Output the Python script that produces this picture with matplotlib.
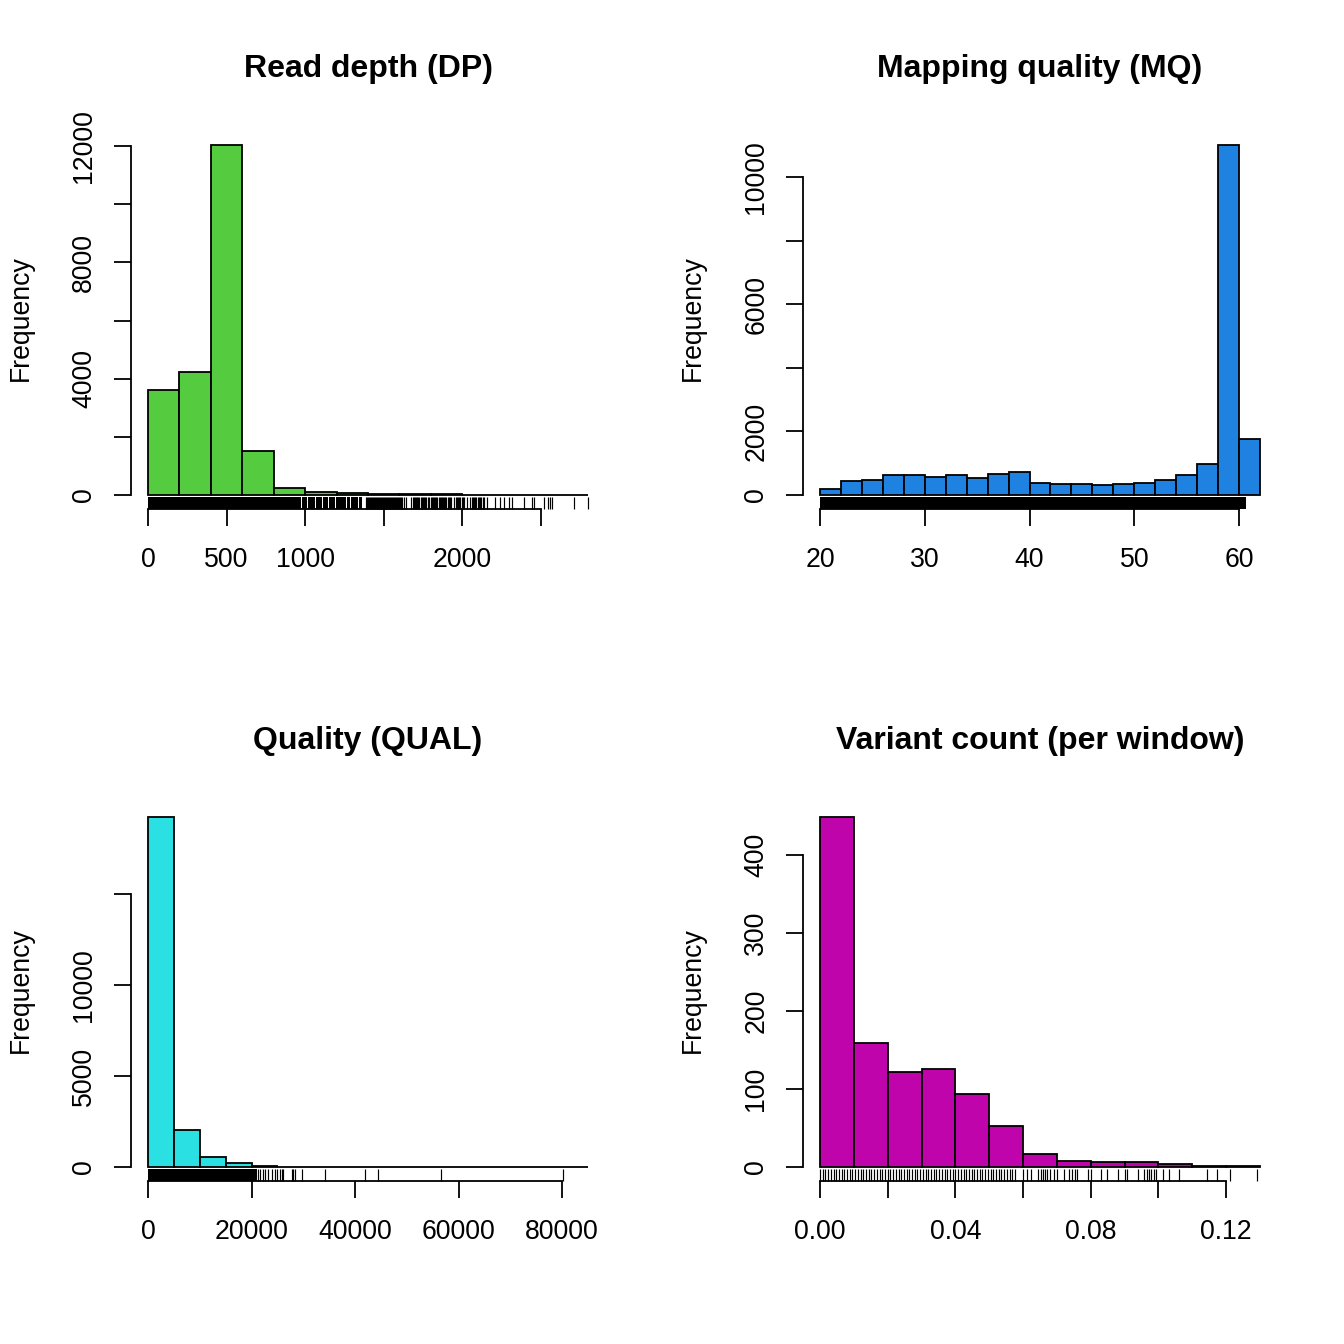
import matplotlib
matplotlib.use("Agg")
import matplotlib.pyplot as plt

plt.rcParams['font.family'] = ['Liberation Sans', 'DejaVu Sans']

# histogram values
dp_edges = [0, 200, 400, 600, 800, 1000, 1200, 1400, 1600, 1800, 2000, 2200, 2400, 2600, 2800]
dp_counts = [3610, 4230, 12035, 1530, 240, 110, 70, 40, 30, 25, 15, 8, 5, 2]
# stretches of the rug that are too dense to tell single ticks apart
dp_solid = [(0, 972), (978, 1010), (1016, 1061), (1067, 1105), (1111, 1143), (1149, 1188),
            (1194, 1258), (1264, 1284), (1290, 1335), (1341, 1360)]
dp_rug = [1388, 1394, 1401, 1407, 1413, 1420, 1426, 1433, 1439, 1445, 1452, 1458, 1465, 1471, 1478,
          1484, 1490, 1497, 1503, 1510, 1516, 1522, 1529, 1535, 1542, 1548, 1554, 1561, 1567, 1574,
          1580, 1586, 1593, 1599, 1606, 1612, 1618, 1628, 1640, 1676, 1684, 1691, 1699, 1705, 1713,
          1720, 1727, 1735, 1742, 1749, 1757, 1763, 1771, 1779, 1786, 1798, 1805, 1813, 1820, 1827,
          1835, 1841, 1849, 1856, 1864, 1871, 1877, 1885, 1893, 1899, 1907, 1914, 1921, 1929, 1950,
          1958, 1966, 1973, 1980, 1988, 1995, 2003, 2011, 2028, 2052, 2060, 2067, 2075, 2083, 2090,
          2098, 2106, 2113, 2121, 2130, 2140, 2160, 2211, 2243, 2264, 2296, 2317, 2392, 2445, 2455,
          2519, 2547, 2557, 2572, 2714, 2800]

mq_edges = [20, 22, 24, 26, 28, 30, 32, 34, 36, 38, 40, 42, 44, 46, 48, 50, 52, 54, 56, 58, 60, 62]
mq_counts = [190, 430, 460, 620, 640, 575, 620, 545, 670, 710, 390, 345, 335, 325, 355, 390, 470,
             620, 985, 11006, 1760]
mq_solid = [(20, 60.7)]
mq_rug = []

qual_edges = [0, 5000, 10000, 15000, 20000, 25000, 30000, 35000, 40000, 45000, 50000, 55000, 60000,
              65000, 70000, 75000, 80000, 85000]
qual_counts = [19230, 2030, 530, 220, 70, 20, 10, 6, 4, 3, 2, 2, 1, 1, 1, 1, 1]
qual_solid = [(0, 21000)]
qual_rug = [21280, 21660, 22240, 22630, 23210, 23980, 24560, 24950, 25530, 25920, 26110, 27850,
            28050, 28430, 29790, 34240, 41970, 44420, 56610, 80210]

var_edges = [0.0, 0.01, 0.02, 0.03, 0.04, 0.05, 0.06, 0.07, 0.08, 0.09, 0.10, 0.11, 0.12, 0.13]
var_counts = [448, 159, 121, 125, 94, 53, 17, 8, 6, 6, 4, 1, 1]
var_solid = []
var_rug = [0.0000, 0.0008, 0.0016, 0.0024, 0.0032, 0.0040, 0.0048, 0.0056, 0.0064, 0.0072, 0.0080,
           0.0088, 0.0096, 0.0104, 0.0112, 0.0120, 0.0128, 0.0136, 0.0144, 0.0152, 0.0160, 0.0168,
           0.0176, 0.0184, 0.0192, 0.0200, 0.0208, 0.0216, 0.0224, 0.0232, 0.0240, 0.0248, 0.0256,
           0.0264, 0.0272, 0.0280, 0.0288, 0.0296, 0.0304, 0.0312, 0.0320, 0.0328, 0.0336, 0.0344,
           0.0352, 0.0360, 0.0368, 0.0376, 0.0384, 0.0392, 0.0400, 0.0408, 0.0416, 0.0424, 0.0432,
           0.0440, 0.0448, 0.0456, 0.0464, 0.0472, 0.0480, 0.0488, 0.0496, 0.0504, 0.0512, 0.0520,
           0.0528, 0.0536, 0.0544, 0.0552, 0.0560, 0.0568, 0.0576, 0.0600, 0.0612, 0.0622, 0.0644,
           0.0652, 0.0659, 0.0665, 0.0672, 0.0681, 0.0691, 0.0701, 0.0721, 0.0735, 0.0745, 0.0752,
           0.0760, 0.0792, 0.0800, 0.0829, 0.0847, 0.0880, 0.0900, 0.0908, 0.0940, 0.0957, 0.0965,
           0.0972, 0.0979, 0.0987, 0.0992, 0.1012, 0.1031, 0.1061, 0.1143, 0.1172, 0.1211, 0.1291]

titles = ['Read depth (DP)', 'Mapping quality (MQ)', 'Quality (QUAL)', 'Variant count (per window)']
bar_colors = ['#55CC3F', '#1F82E0', '#2BE0E2', '#C004AC']

dp_xticks = [0, 500, 1000, 1500, 2000, 2500]
dp_xlabels = ['0', '500', '1000', '', '2000', '']
dp_yticks = [0, 2000, 4000, 6000, 8000, 10000, 12000]
dp_ylabels = ['0', '', '4000', '', '8000', '', '12000']

mq_xticks = [20, 30, 40, 50, 60]
mq_xlabels = ['20', '30', '40', '50', '60']
mq_yticks = [0, 2000, 4000, 6000, 8000, 10000]
mq_ylabels = ['0', '2000', '', '6000', '', '10000']

qual_xticks = [0, 20000, 40000, 60000, 80000]
qual_xlabels = ['0', '20000', '40000', '60000', '80000']
qual_yticks = [0, 5000, 10000, 15000]
qual_ylabels = ['0', '5000', '10000', '']

var_xticks = [0.0, 0.02, 0.04, 0.06, 0.08, 0.10, 0.12]
var_xlabels = ['0.00', '', '0.04', '', '0.08', '', '0.12']
var_yticks = [0, 100, 200, 300, 400]
var_ylabels = ['0', '100', '200', '300', '400']

SIZE = 1344.0
PX = 72.0 / 100  # points per pixel at dpi 100
AX_W = 440.0
AX_H = 350.0
LW = 1.3
FONT = 19.2


def hist_panel(fig, left, base, edges, counts, color, title, xticks, xlabels, yticks, ylabels, solid, rug):
    ax = fig.add_axes([left / SIZE, (SIZE - base) / SIZE, AX_W / SIZE, AX_H / SIZE])
    widths = [edges[i + 1] - edges[i] for i in range(len(counts))]
    ax.bar(edges[:-1], counts, widths, align='edge', color=color, edgecolor='black', linewidth=LW, clip_on=False)
    ax.set_xlim(edges[0], edges[-1])
    ax.set_ylim(0, max(counts))

    # axes sit away from the plot region, like R's default axis()
    ax.spines['top'].set_visible(False)
    ax.spines['right'].set_visible(False)
    ax.spines['left'].set_position(('outward', 17 * PX))
    ax.spines['bottom'].set_position(('outward', 14 * PX))
    ax.spines['left'].set_linewidth(LW)
    ax.spines['bottom'].set_linewidth(LW)
    ax.spines['left'].set_bounds(yticks[0], yticks[-1])
    ax.spines['bottom'].set_bounds(xticks[0], xticks[-1])

    ax.set_xticks(xticks, xlabels)
    ax.set_yticks(yticks, ylabels)
    ax.tick_params(axis='both', length=17 * PX, width=LW, labelsize=FONT)
    ax.tick_params(axis='x', pad=15)
    ax.tick_params(axis='y', pad=12)
    for lab in ax.get_yticklabels():
        lab.set_rotation(90)
        lab.set_verticalalignment('center')

    # rug between the bars and the x axis
    rug_lo = -14 / AX_H
    rug_hi = -2 / AX_H
    for lo, hi in solid:
        ax.axvspan(lo, hi, ymin=rug_lo, ymax=rug_hi, color='black', linewidth=0, clip_on=False)
    if rug:
        ax.vlines(rug, rug_lo, rug_hi, transform=ax.get_xaxis_transform(), color='black', linewidth=0.85, clip_on=False)

    fig.text((left + AX_W / 2) / SIZE, (SIZE - (base - 426)) / SIZE, title, ha='center', va='center',
             fontsize=23, fontweight='bold')
    fig.text((left - 127) / SIZE, (SIZE - (base - 177)) / SIZE, 'Frequency', rotation=90, ha='center',
             va='center', fontsize=FONT)
    return ax


fig = plt.figure(figsize=(13.44, 13.44), dpi=100)
hist_panel(fig, 148, 495, dp_edges, dp_counts, bar_colors[0], titles[0], dp_xticks, dp_xlabels, dp_yticks, dp_ylabels, dp_solid, dp_rug)
hist_panel(fig, 820, 495, mq_edges, mq_counts, bar_colors[1], titles[1], mq_xticks, mq_xlabels, mq_yticks, mq_ylabels, mq_solid, mq_rug)
hist_panel(fig, 148, 1167, qual_edges, qual_counts, bar_colors[2], titles[2], qual_xticks, qual_xlabels, qual_yticks, qual_ylabels, qual_solid, qual_rug)
hist_panel(fig, 820, 1167, var_edges, var_counts, bar_colors[3], titles[3], var_xticks, var_xlabels, var_yticks, var_ylabels, var_solid, var_rug)
fig.savefig('out.png', dpi=100)
